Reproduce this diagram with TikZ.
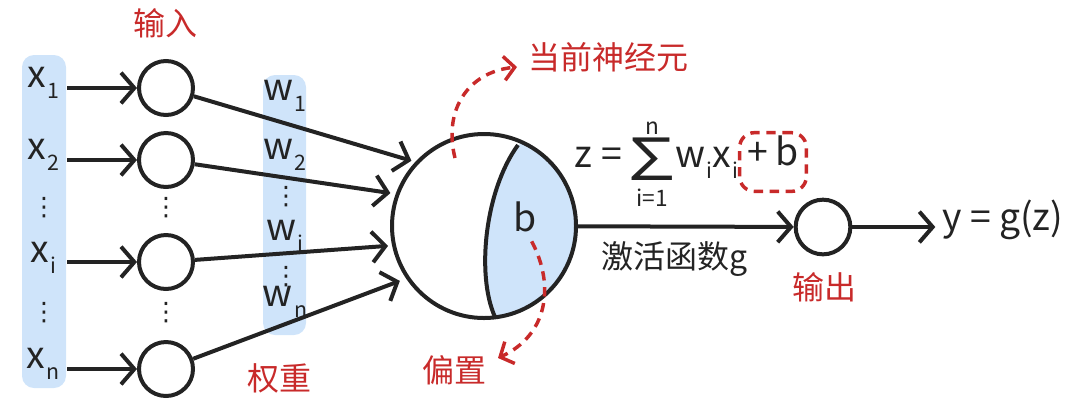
\documentclass[tikz,border=0pt]{standalone}
\usepackage{fontspec}
\setmainfont{Noto Sans CJK SC}
\newfontfamily\symf{DejaVu Sans}
\usetikzlibrary{positioning,arrows.meta}
\definecolor{boxblue}{RGB}{207,228,250}
\definecolor{markred}{RGB}{200,42,42}
\definecolor{inkgray}{RGB}{35,35,35}
\newcommand{\sbs}[1]{\hspace{1pt}\raisebox{-8pt}{\fontsize{16}{16}\selectfont #1}}
\tikzset{
	cell/.style={circle,draw=inkgray,line width=3pt,minimum size=40.5pt,inner sep=0pt},
	arr/.style={draw=inkgray,line width=3pt,-{Straight Barb[length=10pt,width=23pt]}},
	lbl/.style={font=\fontsize{28}{28}\selectfont,text=inkgray,text height=1ex,text depth=0pt,inner sep=0pt},
	cn/.style={font=\fontsize{24}{24}\selectfont,inner sep=2pt},
	redlbl/.style={cn,text=markred},
	reddash/.style={draw=markred,line width=2.6pt,dash pattern=on 7pt off 5pt},
	dotsv/.style={font=\symf\fontsize{19}{19}\selectfont,text=inkgray,inner sep=0pt}
}
\begin{document}
\begin{tikzpicture}[x=0.75pt,y=-0.75pt]
\useasboundingbox (0,0) rectangle (1080,405);
% shaded columns
\fill[boxblue,rounded corners=9pt] (22,55) rectangle (66,388);
\fill[boxblue,rounded corners=9pt] (263,75) rectangle (306,335);

% inputs x
\node[lbl] (X1) at (43,84) {x\sbs{1}};
\node[lbl] (X2) at (43,156) {x\sbs{2}};
\node[dotsv] (XD1) at (44,208) {⋮};
\node[lbl] (Xi) at (43,259) {x\sbs{i}};
\node[dotsv] (XD2) at (44,313) {⋮};
\node[lbl] (Xn) at (43,365) {x\sbs{n}};

% input cells
\node[cell] (In1) at (166,88) {};
\node[cell] (In2) at (166,160) {};
\node[dotsv] (InD1) at (166,208) {⋮};
\node[cell] (Ini) at (166,262) {};
\node[dotsv] (InD2) at (166,313) {⋮};
\node[cell] (Inn) at (166,369) {};
\node[redlbl] (Input) at (165,23) {输入};

\draw[arr] ([xshift=18pt]X1.center |- In1) -- (In1);
\draw[arr] ([xshift=18pt]X2.center |- In2) -- (In2);
\draw[arr] ([xshift=18pt]Xi.center |- Ini) -- (Ini);
\draw[arr] ([xshift=18pt]Xn.center |- Inn) -- (Inn);

% weights
\node[lbl] (W1) at (285,97) {w\sbs{1}};
\node[lbl] (W2) at (285,156) {w\sbs{2}};
\node[dotsv] (WD1) at (286,197) {⋮};
\node[lbl] (Wi) at (285,237) {w\sbs{i}};
\node[dotsv] (WD2) at (286,277) {⋮};
\node[lbl] (Wn) at (285,303) {w\sbs{n}};
\node[redlbl] (Weight) at (279,378) {权重};

% neuron
\node[circle,minimum size=138pt,inner sep=0pt,line width=3pt] (Neuron) at (484,226) {};
\begin{scope}
	\clip (Neuron.center) circle[radius=69pt];
	\fill[boxblue] (518,145) .. controls (485,190) and (476,275) .. (495,317) -- (620,340) -- (620,110) -- cycle;
\end{scope}
\draw[inkgray,line width=3pt] (518,145) .. controls (485,190) and (476,275) .. (495,317);
\draw[inkgray,line width=3pt] (Neuron.center) circle[radius=69pt];
\node[lbl] (B) at (525,228) {b};

\draw[arr,shorten >=3pt] (In1) -- (Neuron.137);
\draw[arr,shorten >=4pt] (In2) -- (Neuron.160);
\draw[arr,shorten >=3pt] (Ini) -- (Neuron.192);
\draw[arr,shorten >=5pt] (Inn) -- (Neuron.214);

% formula
\node[lbl] (Zeq) at (598,164) {z\hspace{7pt}=};
\node[font=\fontsize{44}{44}\selectfont,text=inkgray,inner sep=0pt] (Sig) at (652,159) {\scalebox{1.15}[1]{∑}};
\node[font=\fontsize{17}{17}\selectfont,text=inkgray,inner sep=0pt] (SigN) at (652,128) {n};
\node[font=\fontsize{17}{17}\selectfont,text=inkgray,inner sep=0pt] (SigI) at (652,198) {i=1};
\node[lbl,anchor=west] (WX) at (675,164) {w\sbs{i}x\sbs{i}};
\node[lbl,reddash,rounded corners=11pt,minimum width=50pt,minimum height=44pt,inner sep=0pt] (PB) at (773,162) {+\hspace{5pt}b};

% output
\node[cell,minimum size=41pt] (Out) at (823,227) {};
\node[redlbl] (OutLbl) at (824,287) {输出};
\node[lbl,anchor=west] (Y) at (942,227) {y = g(z)};
\draw[arr] (Neuron) -- (Out);
\draw[arr,shorten >=5pt] (Out) -- (Out -| Y.west);
\node[cn,text=inkgray] (Act) at (675,259) {激活函数g};

% annotations
\node[redlbl] (Cur) at (608,57) {当前神经元};
\node[redlbl] (Bias) at (454,370) {偏置};
\coordinate (CurFrom) at (455,158);
\coordinate (CurTip) at (517,67);
\coordinate (BiasTip) at (498,358);
\draw[reddash,-{Straight Barb[length=8pt,width=18pt]}] (CurFrom) .. controls (443,110) and (468,72) .. (CurTip);
\draw[reddash,-{Straight Barb[length=8pt,width=18pt]}] ([shift={(5pt,-10pt)}]B.center) .. controls (555,285) and (548,335) .. (BiasTip);
\end{tikzpicture}
\end{document}
